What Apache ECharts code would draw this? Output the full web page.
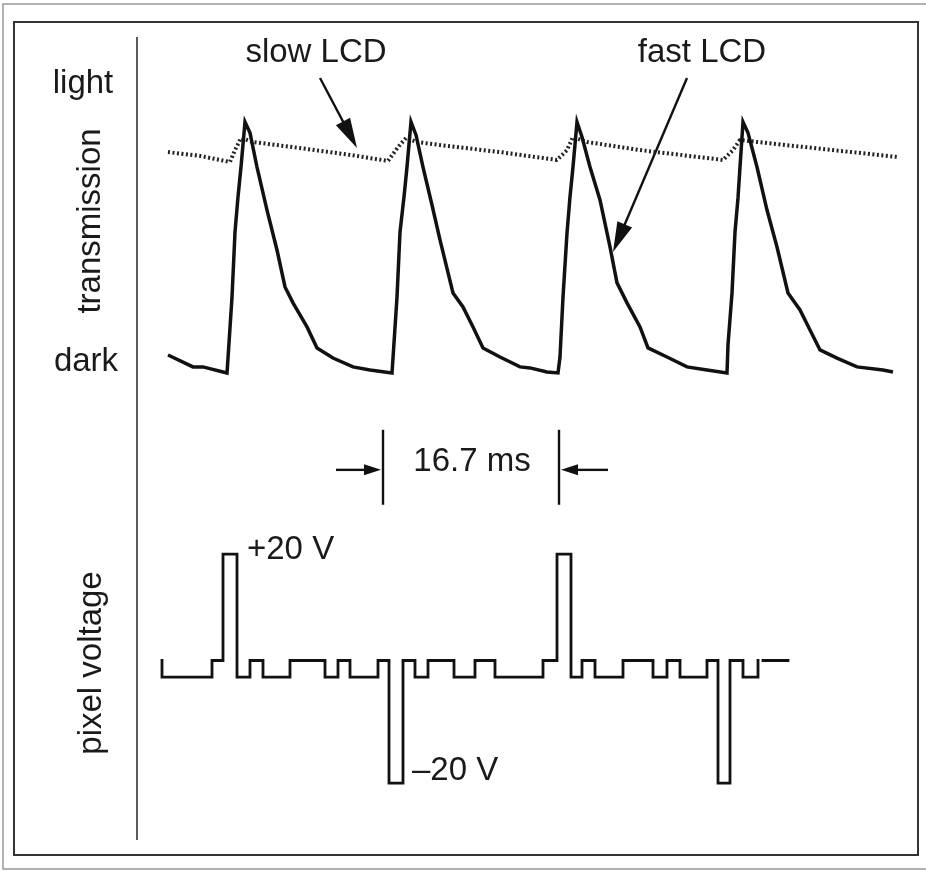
<!DOCTYPE html>
<html>
<head>
<meta charset="utf-8">
<script src="https://cdn.jsdelivr.net/npm/echarts@6/dist/echarts.min.js"></script>
<style>
  html, body { margin: 0; padding: 0; background: #fff; }
  #chart { width: 926px; height: 871px; }
</style>
</head>
<body>
<div id="chart"></div>
<script>
// time in ms (x), transmission in % of light level (0 = dark, 100 = light)
const fastLcd = [
  [0.8, 7.9], [3.3, 3.2], [4.3, 3.2], [6.3, 1.2], [6.7, 0.8],
  [6.8, 6.7], [7.2, 30.8], [7.5, 56.5], [7.8, 70.4], [8.1, 82.2], [8.5, 100],
  [9.0, 95.7], [9.7, 82.2], [10.7, 65.2], [11.7, 49.4], [12.5, 34.8], [13.3, 28.5],
  [14.7, 19.0], [15.7, 10.7], [17.3, 6.7], [19.3, 3.2], [21.0, 2.0], [23.2, 0.8],
  [23.3, 6.7], [23.7, 30.8], [24.0, 56.5], [24.4, 70.4], [24.7, 82.2], [25.1, 100],
  [25.6, 94.9], [26.3, 82.2], [27.2, 67.2], [28.0, 53.4], [29.3, 32.4], [30.3, 26.9],
  [31.3, 19.0], [32.3, 10.7], [34.0, 7.1], [36.0, 3.2], [37.0, 2.8], [38.7, 1.2], [39.8, 0.8],
  [40.0, 7.1], [40.3, 30.8], [40.7, 56.1], [41.0, 70.4], [41.3, 82.2], [41.7, 100],
  [42.2, 94.1], [43.0, 82.2], [44.0, 69.2], [45.0, 50.6], [45.7, 36.4], [46.7, 28.5],
  [48.0, 19.0], [48.8, 10.7], [50.7, 7.1], [52.7, 3.2], [54.7, 2.0], [56.7, 0.8],
  [56.8, 11.9], [57.2, 32.4], [57.5, 56.5], [57.8, 70.0], [58.0, 82.2], [58.3, 100],
  [58.8, 95.7], [59.7, 82.2], [60.7, 65.2], [61.7, 50.6], [62.8, 32.4], [64.0, 25.7],
  [65.0, 17.8], [66.0, 9.9], [67.7, 6.7], [69.7, 3.2], [72.3, 2.0], [73.3, 1.2]
];

const slowLcd = [
  [0.8, 88.1], [4.0, 86.6], [7.0, 84.2], [7.5, 88.9], [8.1, 93.7],
  [9.3, 92.1], [14.0, 89.7], [19.0, 87.0], [22.8, 84.6], [23.8, 90.1], [24.6, 93.7],
  [25.7, 92.1], [28.0, 90.9], [34.0, 88.1], [39.7, 85.0], [40.7, 88.9], [41.3, 94.1],
  [42.7, 92.1], [48.0, 88.9], [56.3, 85.0], [57.3, 88.9], [58.0, 92.9],
  [59.7, 92.1], [67.3, 88.9], [73.7, 86.2]
];

// pixel voltage in V
const pixelVoltage = [
  [0.2, 1.4], [0.2, -1.5], [5.2, -1.5], [5.2, 1.4], [6.3, 1.4], [6.3, 20], [7.7, 20], [7.7, -1.5],
  [9.0, -1.5], [9.0, 1.4], [10.3, 1.4], [10.3, -1.5], [13.0, -1.5], [13.0, 1.4], [16.5, 1.4], [16.5, -1.5],
  [17.8, -1.5], [17.8, 1.4], [19.0, 1.4], [19.0, -1.5], [21.8, -1.5], [21.8, 1.4], [22.9, 1.4], [22.9, -20],
  [24.3, -20], [24.3, 1.4], [25.5, 1.4], [25.5, -1.5], [26.8, -1.5], [26.8, 1.4], [29.4, 1.4], [29.4, -1.5],
  [31.5, -1.5], [31.5, 1.4], [33.5, 1.4], [33.5, -1.5], [38.3, -1.5], [38.3, 1.4], [39.7, 1.4], [39.7, 20],
  [41.1, 20], [41.1, -1.5], [42.2, -1.5], [42.2, 1.4], [43.5, 1.4], [43.5, -1.5], [46.3, -1.5], [46.3, 1.4],
  [49.3, 1.4], [49.3, -1.5], [50.7, -1.5], [50.7, 1.4], [52.0, 1.4], [52.0, -1.5], [54.7, -1.5], [54.7, 1.4],
  [55.8, 1.4], [55.8, -20], [57.0, -20], [57.0, 1.4], [58.3, 1.4], [58.3, -1.5], [59.8, -1.5], [59.8, 1.4],
  [59.9, null], [60.3, 1.4], [62.8, 1.4]
];

// annotation arrows [gridIndex, from, to] and the 16.7 ms marker bars
const arrows = [
  [0, [16.0, 117.4], [19.7, 89.7]],
  [0, [52.7, 117.4], [45.3, 48.6]],
  [1, [17.6, 34.7], [22.1, 34.7]],
  [1, [44.8, 34.7], [40.1, 34.7]]
];
const periodBars = [22.3, 39.9];

const FONT = '33px "Liberation Sans", Arial, Helvetica, sans-serif';

const chart = echarts.init(document.getElementById('chart'));

chart.setOption({
  animation: false,
  backgroundColor: '#fff',
  grid: [
    { left: 160, top: 96.7, width: 740, height: 303.6 },
    { left: 160, top: 525.4, width: 740, height: 286.25 }
  ],
  xAxis: [
    { type: 'value', gridIndex: 0, min: 0, max: 74, show: false },
    { type: 'value', gridIndex: 1, min: 0, max: 74, show: false }
  ],
  yAxis: [
    { type: 'value', gridIndex: 0, min: -10, max: 110, show: false },
    { type: 'value', gridIndex: 1, min: -25, max: 25, show: false }
  ],
  series: [
    {
      name: 'slow LCD',
      type: 'line',
      xAxisIndex: 0, yAxisIndex: 0,
      data: slowLcd,
      showSymbol: false,
      clip: false,
      lineStyle: { color: '#222', width: 4, type: [2, 2.5] }
    },
    {
      name: 'fast LCD',
      type: 'line',
      xAxisIndex: 0, yAxisIndex: 0,
      data: fastLcd,
      showSymbol: false,
      clip: false,
      lineStyle: { color: '#111', width: 3.5, join: 'miter' }
    },
    {
      name: 'pixel voltage',
      type: 'line',
      xAxisIndex: 1, yAxisIndex: 1,
      data: pixelVoltage,
      showSymbol: false,
      clip: false,
      connectNulls: false,
      lineStyle: { color: '#111', width: 2.8, join: 'miter', cap: 'square' }
    }
  ]
});

function px(g, p) {
  return chart.convertToPixel({ gridIndex: g }, p);
}

const graphics = [];
// frames
graphics.push({ type: 'rect', shape: { x: 3, y: 4, width: 940, height: 865 }, style: { fill: null, stroke: '#999', lineWidth: 1.5 } });
graphics.push({ type: 'rect', shape: { x: 14, y: 22, width: 904, height: 833 }, style: { fill: null, stroke: '#333', lineWidth: 2 } });
// vertical axis line
graphics.push({ type: 'line', shape: { x1: 137, y1: 37, x2: 137, y2: 840 }, style: { stroke: '#333', lineWidth: 1.6 } });

// arrows
arrows.forEach(function (a) {
  const p0 = px(a[0], a[1]);
  const p1 = px(a[0], a[2]);
  const dx = p1[0] - p0[0], dy = p1[1] - p0[1];
  const len = Math.sqrt(dx * dx + dy * dy);
  const ux = dx / len, uy = dy / len;
  const big = a[0] === 0;
  const L = big ? 30 : 17, W = big ? 8 : 5.5;
  const bx = p1[0] - ux * L, by = p1[1] - uy * L;
  graphics.push({ type: 'line', shape: { x1: p0[0], y1: p0[1], x2: bx + ux * 2, y2: by + uy * 2 }, style: { stroke: '#111', lineWidth: 2.4 } });
  graphics.push({
    type: 'polygon',
    shape: { points: [[p1[0], p1[1]], [bx - uy * W, by + ux * W], [bx + uy * W, by - ux * W]] },
    style: { fill: '#111' }
  });
});
periodBars.forEach(function (t) {
  const a = px(1, [t, 41.7]);
  const b = px(1, [t, 28.6]);
  graphics.push({ type: 'line', shape: { x1: a[0], y1: a[1], x2: b[0], y2: b[1] }, style: { stroke: '#111', lineWidth: 2.4 } });
});

// texts
function txt(s, x, y, align, rot) {
  graphics.push({
    type: 'text', x: x, y: y, rotation: rot || 0,
    style: { text: s, font: FONT, fill: '#1a1a1a', align: align || 'center', verticalAlign: 'middle' }
  });
}
txt('light', 83, 84);
txt('dark', 86, 362);
txt('transmission', 91, 221, 'center', Math.PI / 2);
txt('pixel voltage', 92, 663, 'center', Math.PI / 2);
txt('slow LCD', 316, 53);
txt('fast LCD', 702, 53);
txt('16.7 ms', 472, 462);
txt('+20 V', 247, 550, 'left');
txt('–20 V', 412, 771, 'left');

chart.setOption({ graphic: graphics });
</script>
</body>
</html>
